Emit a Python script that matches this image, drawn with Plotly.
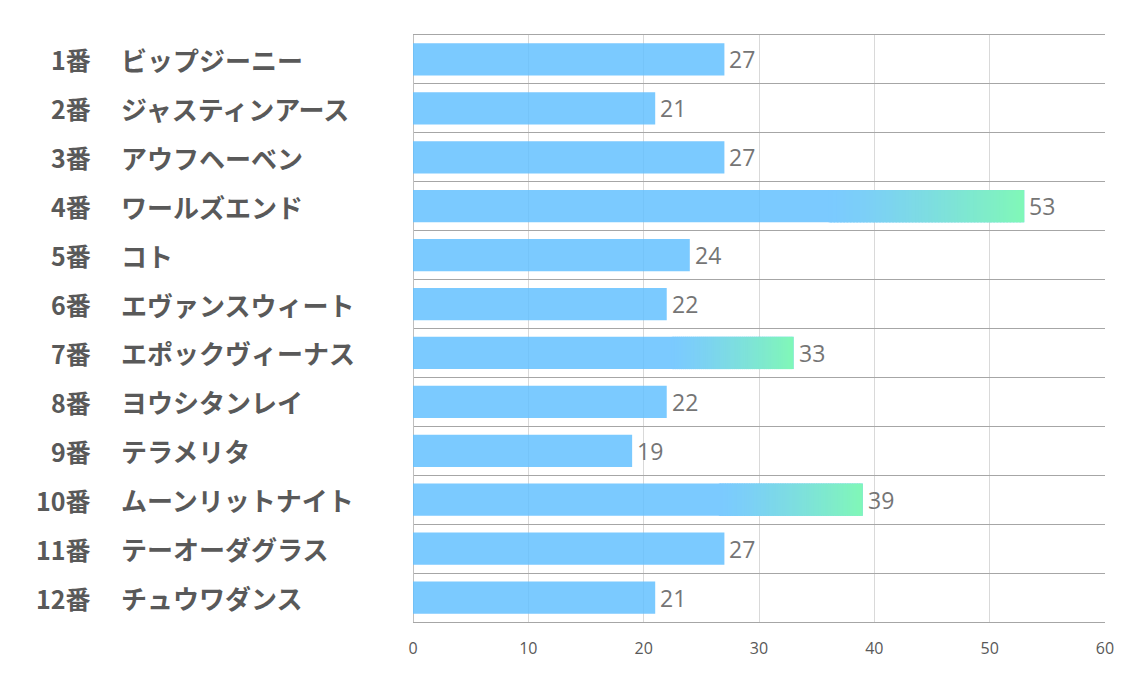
import plotly.graph_objects as go

numbers = ["1番", "2番", "3番", "4番", "5番", "6番", "7番", "8番", "9番", "10番", "11番", "12番"]
names = ["ビップジーニー", "ジャスティンアース", "アウフヘーベン", "ワールズエンド", "コト",
         "エヴァンスウィート", "エポックヴィーナス", "ヨウシタンレイ", "テラメリタ",
         "ムーンリットナイト", "テーオーダグラス", "チュウワダンス"]
values = [27, 21, 27, 53, 24, 22, 33, 22, 19, 39, 27, 21]
x_ticks = [0, 10, 20, 30, 40, 50, 60]

BLUE_T = (100, 193, 255)    # blended at opacity 0.85 -> ~ (123,202,255)
BLUE = (123, 202, 255)
GREEN = (128, 247, 184)
OPA = 0.85
GRAD_START = 0.68
NSEG = 60
THRESH = 30

rows = list(range(len(values)))
fig = go.Figure()

def rgb(c):
    return "rgb(%d,%d,%d)" % tuple(int(round(v)) for v in c)

# full bar (solid blue)
fig.add_trace(go.Bar(
    y=rows, x=values, base=[0] * len(values), orientation="h",
    marker=dict(color=rgb(BLUE_T), line=dict(width=0)), opacity=OPA,
    width=0.66, hoverinfo="skip", showlegend=False))

# gradient overlay for high bars
for k in range(NSEG):
    ys, bases, lens = [], [], []
    for i, v in enumerate(values):
        if v > THRESH:
            g0 = v * GRAD_START
            seg = (v - g0) / NSEG
            ys.append(i)
            b = g0 + k * seg - (seg * 0.5 if k > 0 else 0)
            bases.append(b)
            lens.append(g0 + (k + 1) * seg - b)
    t = (k + 0.5) / NSEG
    t = t ** 1.3
    col = tuple(BLUE[j] + (GREEN[j] - BLUE[j]) * t for j in range(3))
    fig.add_trace(go.Bar(
        y=ys, x=lens, base=bases, orientation="h",
        marker=dict(color=rgb(col), line=dict(width=0)),
        width=0.66, hoverinfo="skip", showlegend=False))

annotations = []
for i in rows:
    annotations.append(dict(
        xref="x", yref="y", x=values[i], y=i, text=str(values[i]), showarrow=False,
        xanchor="left", yanchor="middle", xshift=3,
        font=dict(family="Open Sans, Noto Sans", size=23, color="#757575")))
    annotations.append(dict(
        xref="paper", yref="y", x=-0.462, y=i, text=numbers[i], showarrow=False,
        xanchor="right", yanchor="middle",
        font=dict(family="Noto Sans CJK JP", size=25, color="#595959", weight="bold")))
    annotations.append(dict(
        xref="paper", yref="y", x=-0.4245, y=i, text=names[i], showarrow=False,
        xanchor="left", yanchor="middle",
        font=dict(family="Noto Sans CJK JP", size=26, color="#595959", weight="bold")))

fig.update_layout(
    width=1126, height=672,
    margin=dict(l=405, r=29, t=27, b=58),
    paper_bgcolor="white", plot_bgcolor="white",
    barmode="overlay",
    annotations=annotations,
    xaxis=dict(range=[0, 60], tickvals=x_ticks, showgrid=True, gridcolor="#d9d9d9",
               gridwidth=1, zeroline=True, zerolinecolor="#bfbfbf", zerolinewidth=1,
               showline=True, mirror=True, linecolor="#a6a6a6", linewidth=1,
               ticks="outside", ticklen=12, tickcolor="rgba(0,0,0,0)",
               tickfont=dict(family="Open Sans, Noto Sans", size=16, color="#595959")),
    yaxis=dict(range=[11.5, -0.5], tickvals=[r - 0.5 for r in range(len(values) + 1)],
               showticklabels=False, showgrid=True, gridcolor="#a6a6a6", gridwidth=1,
               zeroline=False, showline=False, ticks=""),
)

fig.write_html("out.html")
